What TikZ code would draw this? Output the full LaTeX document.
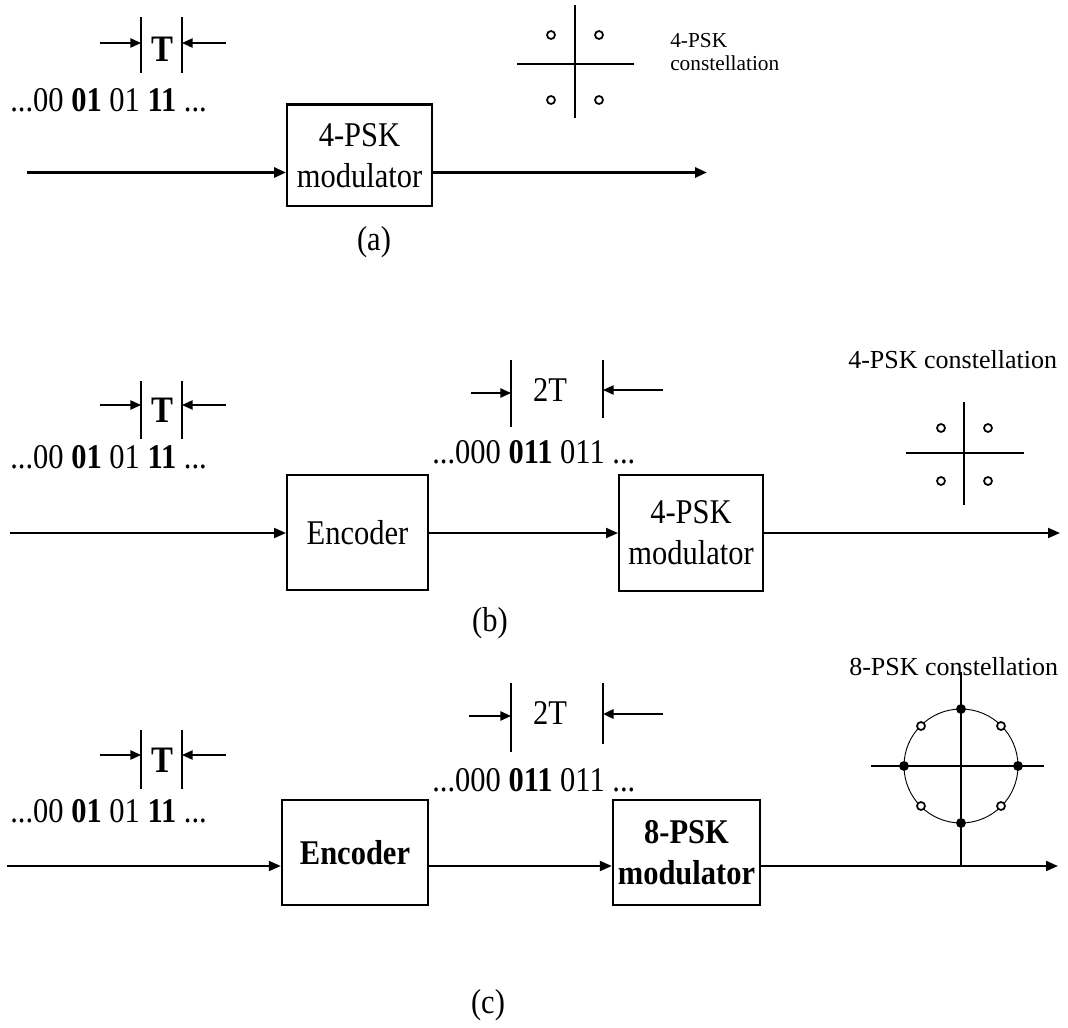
\documentclass[tikz,border=0pt]{standalone}
\usepackage{fontspec}
\setmainfont{Liberation Serif}
\usetikzlibrary{arrows.meta}
\newcommand{\cx}[1]{\scalebox{0.88}[1]{#1}}
\newcommand{\dimmark}[9]{%
 \coordinate (#1lt) at (#2,#7); \coordinate (#1lb) at (#2,#8);
 \coordinate (#1rt) at (#3,#7); \coordinate (#1rb) at (#3,#9);
 \coordinate (#1la) at (#4,#6); \coordinate (#1ra) at (#5,#6);
 \draw[dimln] (#1lt) -- (#1lb); \draw[dimln] (#1rt) -- (#1rb);
 \draw[dimarr] (#1la) -- (#1la -| #1lt); \draw[dimarr] (#1ra) -- (#1ra -| #1rt);}
\begin{document}
\begin{tikzpicture}[x=0.75pt,y=-0.75pt,
  blk/.style={draw,line width=1.5pt,inner sep=0pt,align=center,font=\fontsize{26}{31}\selectfont},
  sig/.style={line width=1.5pt,-{Triangle[length=9pt,width=7.5pt]}},
  siga/.style={line width=2.2pt,-{Triangle[length=9pt,width=7.5pt]}},
  dimln/.style={line width=1pt},
  dimarr/.style={line width=1.1pt,-{Triangle[length=8pt,width=7pt]}},
  big/.style={inner sep=0pt,font=\fontsize{26}{31}\selectfont},
  bigT/.style={inner sep=0pt,font=\fontsize{28}{31}\selectfont\bfseries},
  small/.style={inner sep=0pt,font=\fontsize{16}{17}\selectfont},
  axis/.style={line width=1.1pt},
  cpt/.style={draw,circle,line width=1.3pt,inner sep=0pt,minimum size=6pt,fill=white},
  cptf/.style={draw,circle,line width=1.3pt,inner sep=0pt,minimum size=6pt,fill=black}
]
\fill[white] (0,0) rectangle (1068,1028);
\useasboundingbox (0,0) rectangle (1068,1028);

% ---------------- (a)
\dimmark{a}{141}{182}{100}{226}{43}{17}{73}{73}
\node[bigT] (aT) at (162,49) {\cx{T}};
\node[big,anchor=west] (abits) at (10,100) {\cx{...00 \textbf{01} 01 \textbf{11} ...}};
\node[blk,minimum width=108.75pt,minimum height=75.75pt] (amod) at (359.5,155.5) {\cx{4-PSK}\\\cx{modulator}};
\draw[line width=2.2pt] (amod.north west) -- (amod.north east);
\coordinate (ain) at (27,172.5); \coordinate (aout) at (707,172.5);
\draw[siga] (ain) -- (ain -| amod.west);
\draw[siga] (amod.east |- aout) -- (aout);
\coordinate (avt) at (575,5); \coordinate (avb) at (575,118);
\coordinate (ahl) at (517,64); \coordinate (ahr) at (634,64);
\draw[axis] (avt) -- (avb); \draw[axis] (ahl) -- (ahr);
\node[cpt] (ap1) at (551,35) {}; \node[cpt] (ap2) at (599,35) {};
\node[cpt] (ap3) at (551,100) {}; \node[cpt] (ap4) at (599,100) {};
\node[small,anchor=west,align=left] (alab) at (670,52) {4-PSK\\constellation};
\node[big] (acap) at (374,242) {\cx{(a)}};

% ---------------- (b)
\dimmark{b}{141}{182}{100}{226}{405}{381}{439}{439}
\node[bigT] (bT) at (162,410) {\cx{T}};
\node[big,anchor=west] (bbits) at (10,457) {\cx{...00 \textbf{01} 01 \textbf{11} ...}};
\node[blk,minimum width=105.75pt,minimum height=86.25pt] (benc) at (357.5,532.5) {\cx{Encoder}};
\node[blk,minimum width=108pt,minimum height=87pt] (bmod) at (691,533) {\cx{4-PSK}\\\cx{modulator}};
\coordinate (bin) at (10,533); \coordinate (bout) at (1060,533);
\draw[sig] (bin) -- (bin -| benc.west);
\draw[sig] (benc.east |- bin) -- (bmod.west |- bin);
\draw[sig] (bmod.east |- bout) -- (bout);
\coordinate (bdl) at (471,393); \coordinate (bdr) at (663,390);
\coordinate (bllt) at (511,360); \coordinate (bllb) at (511,427);
\coordinate (brlt) at (603,360); \coordinate (brlb) at (603,418);
\draw[dimln] (bllt) -- (bllb); \draw[dimln] (brlt) -- (brlb);
\draw[dimarr] (bdl) -- (bdl -| bllt); \draw[dimarr] (bdr) -- (bdr -| brlt);
\node[big] (b2T) at (550,390) {\cx{2T}};
\node[big,anchor=west] (bcode) at (432,452) {\cx{...000 \textbf{011} 011 ...}};
\coordinate (bvt) at (964,402); \coordinate (bvb) at (964,505);
\coordinate (bhl) at (906,453); \coordinate (bhr) at (1024,453);
\draw[axis] (bvt) -- (bvb); \draw[axis] (bhl) -- (bhr);
\node[cpt] (bp1) at (941,428) {}; \node[cpt] (bp2) at (988,428) {};
\node[cpt] (bp3) at (941,481) {}; \node[cpt] (bp4) at (988,481) {};
\node[small,anchor=west,font=\fontsize{19.5}{22}\selectfont] (blab) at (848,360) {4-PSK constellation};
\node[big] (bcap) at (490,623) {\cx{(b)}};

% ---------------- (c)
\dimmark{c}{141}{182}{100}{226}{755}{730}{789}{789}
\node[bigT] (cT) at (162,760) {\cx{T}};
\node[big,anchor=west] (cbits) at (10,811) {\cx{...00 \textbf{01} 01 \textbf{11} ...}};
\node[blk,line width=1.8pt,minimum width=109.5pt,minimum height=78.75pt,font=\fontsize{26}{31}\selectfont\bfseries] (cenc) at (355,852.5) {\cx{Encoder}};
\node[blk,line width=1.8pt,minimum width=110.25pt,minimum height=78.75pt,font=\fontsize{26}{31}\selectfont\bfseries] (cmod) at (686.5,852.5) {\cx{8-PSK}\\\cx{modulator}};
\coordinate (cin) at (7,866); \coordinate (cout) at (1058,866);
\draw[sig] (cin) -- (cin -| cenc.west);
\draw[sig] (cenc.east |- cin) -- (cmod.west |- cin);
\draw[sig] (cmod.east |- cout) -- (cout);
\coordinate (cdl) at (469,716); \coordinate (cdr) at (663,714);
\coordinate (cllt) at (511,683); \coordinate (cllb) at (511,752);
\coordinate (crlt) at (603,683); \coordinate (crlb) at (603,744);
\draw[dimln] (cllt) -- (cllb); \draw[dimln] (crlt) -- (crlb);
\draw[dimarr] (cdl) -- (cdl -| cllt); \draw[dimarr,line width=1.8pt] (cdr) -- (cdr -| crlt);
\node[big] (c2T) at (550,713) {\cx{2T}};
\node[big,anchor=west] (ccode) at (432,780) {\cx{...000 \textbf{011} 011 ...}};
\node[small,anchor=west,font=\fontsize{19.5}{22}\selectfont] (clab) at (849,667) {8-PSK constellation};
\coordinate (cc) at (961,766);
\coordinate (cvt) at (961,672);
\coordinate (chl) at (871,766); \coordinate (chr) at (1044,766);
\draw[line width=0.7pt] (cc) circle[radius=57];
\draw[axis] (cvt) -- (cvt |- cout);
\draw[line width=2.2pt] (chl) -- (chr);
\node[cptf] (cq1) at (1018,766) {}; \node[cptf] (cq3) at (961,709) {};
\node[cptf] (cq5) at (904,766) {}; \node[cptf] (cq7) at (961,823) {};
\node[cpt] (cq2) at (1001,726) {}; \node[cpt] (cq4) at (921,726) {};
\node[cpt] (cq6) at (921,806) {}; \node[cpt] (cq8) at (1001,806) {};
\node[big] (ccap) at (488,1005) {\cx{(c)}};
\end{tikzpicture}
\end{document}
